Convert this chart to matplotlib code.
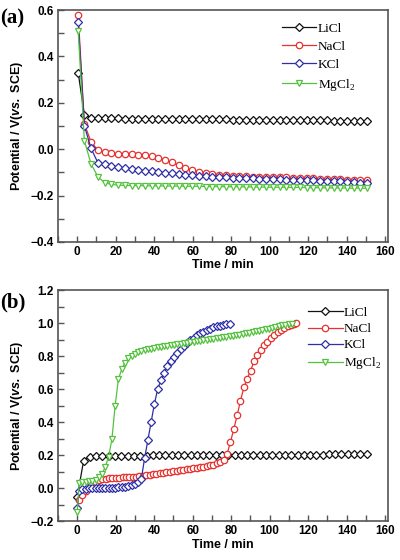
import numpy as np
import matplotlib
matplotlib.use('Agg')
import matplotlib.pyplot as plt
from matplotlib.ticker import MultipleLocator

# ---- panel (a): open circuit potential, shared time grid (min)
time_a = [0.5, 3.7, 7.2, 10.7, 14.2, 17.7, 21.2, 24.7, 28.2, 31.7, 35.2,
          38.7, 42.2, 45.7, 49.2, 52.7, 56.2, 59.7, 63.2, 66.7, 70.2, 73.7,
          77.2, 80.7, 84.2, 87.7, 91.2, 94.7, 98.2, 101.7, 105.2, 108.7, 112.2,
          115.7, 119.2, 122.7, 126.2, 129.7, 133.2, 136.7, 140.2, 143.7, 147.2, 150.7]

licl_a = [0.330, 0.148, 0.136, 0.134, 0.133, 0.133, 0.133, 0.132, 0.132, 0.132, 0.132,
          0.131, 0.131, 0.131, 0.131, 0.130, 0.130, 0.130, 0.130, 0.129, 0.129, 0.129,
          0.129, 0.128, 0.128, 0.128, 0.127, 0.127, 0.127, 0.126, 0.126, 0.126, 0.125,
          0.125, 0.125, 0.124, 0.124, 0.124, 0.123, 0.123, 0.123, 0.122, 0.122, 0.121]
nacl_a = [0.580, 0.110, 0.030, -0.003, -0.013, -0.018, -0.020, -0.021, -0.022, -0.023, -0.026,
          -0.031, -0.038, -0.047, -0.057, -0.069, -0.081, -0.091, -0.098, -0.103, -0.107, -0.110,
          -0.112, -0.114, -0.116, -0.117, -0.118, -0.119, -0.120, -0.121, -0.122, -0.122, -0.123,
          -0.124, -0.125, -0.126, -0.127, -0.128, -0.129, -0.130, -0.131, -0.132, -0.133, -0.134]
kcl_a = [0.550, 0.101, 0.003, -0.058, -0.066, -0.073, -0.078, -0.083, -0.087, -0.090, -0.093,
         -0.096, -0.099, -0.101, -0.104, -0.107, -0.110, -0.113, -0.115, -0.117, -0.119, -0.121,
         -0.122, -0.123, -0.124, -0.125, -0.126, -0.127, -0.128, -0.129, -0.130, -0.131, -0.132,
         -0.133, -0.134, -0.135, -0.136, -0.137, -0.138, -0.139, -0.141, -0.143, -0.145, -0.147]
mgcl2_a = [0.510, 0.036, -0.064, -0.118, -0.145, -0.152, -0.155, -0.156, -0.157, -0.157, -0.158,
           -0.158, -0.158, -0.159, -0.159, -0.159, -0.160, -0.160, -0.160, -0.161, -0.161, -0.161,
           -0.162, -0.162, -0.162, -0.163, -0.163, -0.163, -0.164, -0.164, -0.164, -0.165, -0.165,
           -0.165, -0.166, -0.166, -0.166, -0.167, -0.167, -0.167, -0.168, -0.168, -0.168, -0.169]

# ---- panel (b): each series sampled on its own time grid
licl_b_t = [0.0, 3.3, 6.5, 9.8, 13.1, 16.4, 19.6, 22.9, 26.2, 29.4, 32.7, 36.0,
            39.2, 42.5, 45.8, 49.1, 52.3, 55.6, 58.9, 62.1, 65.4, 68.7, 71.9, 75.2,
            78.5, 81.8, 85.0, 88.3, 91.6, 94.8, 98.1, 101.4, 104.6, 107.9, 111.2, 114.5,
            117.7, 121.0, 124.3, 127.5, 130.8, 134.1, 137.3, 140.6, 143.9, 147.2, 150.4]
licl_b = [-0.053, 0.165, 0.190, 0.194, 0.195, 0.196, 0.196, 0.196, 0.197, 0.197, 0.197, 0.197,
          0.198, 0.198, 0.198, 0.198, 0.198, 0.199, 0.199, 0.199, 0.199, 0.199, 0.200, 0.200,
          0.200, 0.200, 0.200, 0.201, 0.201, 0.201, 0.201, 0.201, 0.202, 0.202, 0.202, 0.202,
          0.203, 0.203, 0.203, 0.203, 0.204, 0.204, 0.204, 0.205, 0.205, 0.205, 0.206]

nacl_b_t = [0.8, 2.6, 4.3, 6.1, 7.8, 9.6, 11.3, 13.1, 14.8, 16.6,
            18.3, 20.1, 21.8, 23.6, 25.3, 27.1, 28.8, 30.6, 32.3, 34.1,
            35.8, 37.6, 39.3, 41.1, 42.8, 44.6, 46.3, 48.1, 49.8, 51.6,
            53.3, 55.1, 56.8, 58.6, 60.3, 62.1, 63.8, 65.6, 67.3, 69.1,
            70.8, 72.6, 74.3, 76.1, 77.8, 79.6, 81.3, 83.1, 84.8, 86.6,
            88.3, 90.1, 91.8, 93.6, 95.3, 97.1, 98.8, 100.6, 102.3, 104.1,
            105.8, 107.6, 109.3, 111.1, 112.8, 113.8]
nacl_b = [-0.070, -0.045, -0.018, 0.006, 0.025, 0.038, 0.047, 0.053, 0.057, 0.059,
          0.061, 0.062, 0.063, 0.064, 0.065, 0.066, 0.068, 0.069, 0.071, 0.073,
          0.076, 0.079, 0.083, 0.087, 0.090, 0.094, 0.097, 0.100, 0.103, 0.106,
          0.108, 0.111, 0.114, 0.117, 0.120, 0.123, 0.126, 0.129, 0.133, 0.137,
          0.142, 0.149, 0.157, 0.172, 0.205, 0.277, 0.355, 0.440, 0.528, 0.610,
          0.663, 0.710, 0.768, 0.808, 0.838, 0.866, 0.888, 0.908, 0.927, 0.943,
          0.958, 0.969, 0.981, 0.989, 0.995, 0.998]

kcl_b_t = [0.0, 1.0, 2.7, 4.4, 6.1, 7.8, 9.5, 11.2, 12.9, 14.6,
           16.3, 18.0, 19.7, 21.4, 23.1, 24.8, 26.5, 28.2, 29.9, 31.6,
           33.3, 35.0, 36.7, 38.4, 40.1, 41.8, 43.5, 45.2, 46.9, 48.6,
           50.3, 52.0, 53.7, 55.4, 57.1, 58.8, 60.5, 62.2, 63.9, 65.6,
           67.3, 69.0, 70.7, 72.4, 74.1, 75.8, 77.5, 79.2]
kcl_b = [-0.120, -0.020, -0.008, -0.004, -0.002, 0.000, 0.000, 0.000, 0.000, 0.000,
         0.001, 0.002, 0.003, 0.004, 0.006, 0.009, 0.013, 0.018, 0.025, 0.035,
         0.055, 0.180, 0.290, 0.400, 0.510, 0.600, 0.655, 0.700, 0.737, 0.767,
         0.795, 0.820, 0.843, 0.863, 0.881, 0.897, 0.911, 0.925, 0.937, 0.948,
         0.958, 0.966, 0.973, 0.979, 0.984, 0.988, 0.992, 0.995]

mgcl2_b_t = [0.0, 1.0, 2.7, 4.4, 6.1, 7.8, 9.5, 11.2, 12.9, 14.6,
             16.3, 18.0, 19.7, 21.4, 23.1, 24.8, 26.5, 28.2, 29.9, 31.6,
             33.3, 35.0, 36.7, 38.4, 40.1, 41.8, 43.5, 45.2, 46.9, 48.6,
             50.3, 52.0, 53.7, 55.4, 57.1, 58.8, 60.5, 62.2, 63.9, 65.6,
             67.3, 69.0, 70.7, 72.4, 74.1, 75.8, 77.5, 79.2, 80.9, 82.6,
             84.3, 86.0, 87.7, 89.4, 91.1, 92.8, 94.5, 96.2, 97.9, 99.6,
             101.3, 103.0, 104.7, 106.4, 108.1, 109.8, 111.5]
mgcl2_b = [-0.145, 0.030, 0.036, 0.039, 0.042, 0.045, 0.050, 0.065, 0.085, 0.130,
           0.190, 0.295, 0.500, 0.660, 0.720, 0.760, 0.785, 0.803, 0.815, 0.824,
           0.831, 0.836, 0.840, 0.844, 0.848, 0.852, 0.856, 0.859, 0.862, 0.865,
           0.868, 0.871, 0.874, 0.877, 0.880, 0.883, 0.886, 0.889, 0.892, 0.895,
           0.898, 0.901, 0.904, 0.907, 0.910, 0.913, 0.916, 0.919, 0.922, 0.925,
           0.929, 0.933, 0.937, 0.941, 0.945, 0.949, 0.953, 0.957, 0.961, 0.965,
           0.970, 0.975, 0.980, 0.985, 0.990, 0.993, 0.995]

names = ['LiCl', 'NaCl', 'KCl', 'MgCl$_2$']
colours = ['#111111', '#e8312f', '#2e2ea8', '#55c23f']
markers = ['D', 'o', 'D', 'v']
msizes = [3.8, 4.6, 3.8, 5.0]

SANS = 'Liberation Sans'
SERIF = 'Liberation Serif'
SPINE = '#555555'


def style_axes(ax, ylo, yhi):
    ax.set_xlim(-10, 161.5)
    ax.set_ylim(ylo, yhi)
    ax.xaxis.set_major_locator(MultipleLocator(20))
    ax.xaxis.set_minor_locator(MultipleLocator(10))
    ax.yaxis.set_major_locator(MultipleLocator(0.2))
    ax.yaxis.set_minor_locator(MultipleLocator(0.1))
    ax.tick_params(which='both', direction='in', top=False, right=False,
                   color=SPINE, width=1.0)
    ax.tick_params(which='major', length=4, labelsize=8.5, pad=3)
    ax.tick_params(which='minor', length=4)
    for s in ax.spines.values():
        s.set_color(SPINE)
        s.set_linewidth(1.2)
    for lab in ax.get_xticklabels() + ax.get_yticklabels():
        lab.set_fontfamily(SANS)
        lab.set_fontweight('bold')
    ax.set_xlabel('Time / min', family=SANS, weight='bold', size=9, labelpad=1)
    ax.set_ylabel(r'Potential / V($\mathbfit{vs.}$ SCE)', family=SANS,
                  weight='bold', size=9, labelpad=4)


def draw_series(ax, xs, ys, i):
    ax.plot(xs, ys, color=colours[i], lw=0.9, marker=markers[i], ms=msizes[i],
            mfc='white', mec=colours[i], mew=0.9, label=names[i])


def do_legend(ax, anchor, spacing):
    ax.legend(loc='upper right', bbox_to_anchor=anchor, frameon=False,
              prop={'family': SERIF, 'size': 9.5}, handlelength=2.6,
              handletextpad=0.1, labelspacing=spacing, borderaxespad=0)


plt.rcParams['mathtext.fontset'] = 'custom'
plt.rcParams['mathtext.rm'] = SERIF
plt.rcParams['mathtext.bfit'] = 'Liberation Sans:italic:bold'

fig = plt.figure(figsize=(4, 5.6), dpi=100)

# (a)
ax1 = fig.add_axes([0.145, 0.568, 0.825, 0.414])
for i, ys in enumerate([licl_a, nacl_a, kcl_a, mgcl2_a]):
    draw_series(ax1, time_a, ys, i)
style_axes(ax1, -0.4, 0.6)
do_legend(ax1, (0.915, 0.97), 0.45)

# (b)
ax2 = fig.add_axes([0.145, 0.0696, 0.825, 0.4125])
series_b = [(licl_b_t, licl_b), (nacl_b_t, nacl_b), (kcl_b_t, kcl_b), (mgcl2_b_t, mgcl2_b)]
for i, (xs, ys) in enumerate(series_b):
    draw_series(ax2, xs, ys, i)
style_axes(ax2, -0.2, 1.2)
do_legend(ax2, (0.995, 0.95), 0.3)

fig.text(0.0, 0.985, '(a)', family=SERIF, weight='bold', size=15, va='top', ha='left')
fig.text(0.0, 0.477, '(b)', family=SERIF, weight='bold', size=15, va='top', ha='left')

fig.savefig('out.png', dpi=100)
